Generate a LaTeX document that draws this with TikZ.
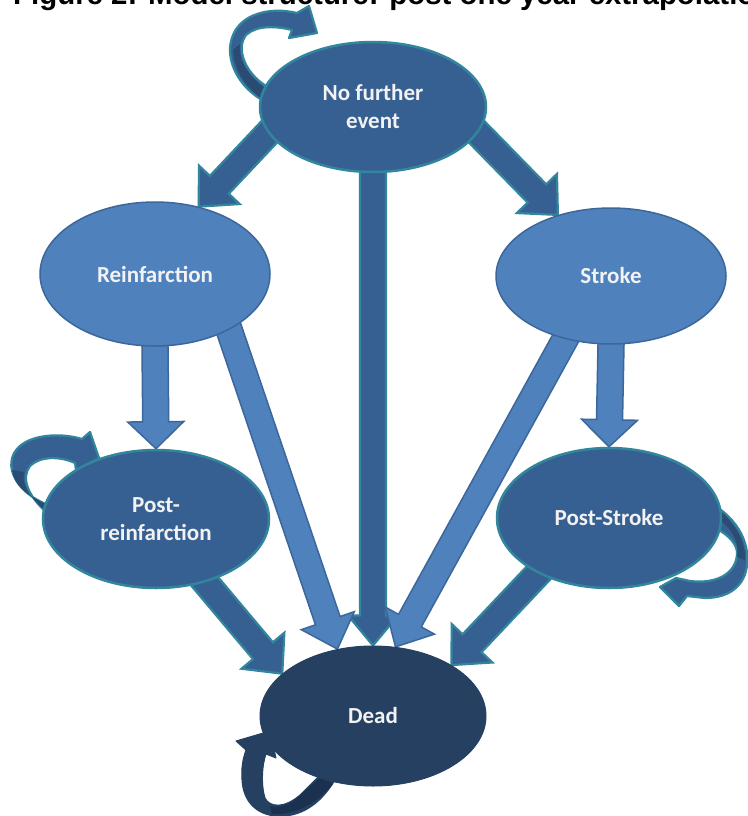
\documentclass[tikz,border=0pt]{standalone}
\usepackage{fontspec}
\setmainfont{Carlito}
\newfontfamily\titlefont{Liberation Sans}
\usetikzlibrary{calc,shapes.geometric}
\definecolor{dkblue}{HTML}{376092}
\definecolor{tealb}{HTML}{31859C}
\definecolor{ltblue}{HTML}{4F81BD}
\definecolor{ltborder}{HTML}{3C679A}
\definecolor{deadblue}{HTML}{254061}
\definecolor{shadeA}{HTML}{2A4B72}
\definecolor{shadeD}{HTML}{1B3150}
\definecolor{txt}{HTML}{F2F2F2}
\pgfdeclarelayer{bg}
\pgfsetlayers{bg,main}
\def\baSW{13pt}\def\baHW{28pt}\def\baHL{30pt}
\newcommand\blockarrow[3]{%
  \coordinate (ba-s) at ($(#2)!-12pt!(#3)$);
  \coordinate (ba-n) at ($(#3)!\baHL!(#2)$);
  \path[#1] ($(ba-s)!\baSW!90:(#3)$) -- ($(ba-n)!\baSW!90:(#3)$) -- ($(ba-n)!\baHW!90:(#3)$) -- (#3)
     -- ($(ba-n)!\baHW!-90:(#3)$) -- ($(ba-n)!\baSW!-90:(#3)$) -- ($(ba-s)!\baSW!-90:(#3)$) -- cycle;
}
\begin{document}
\begin{tikzpicture}[x=1pt,y=-1pt,
  state/.style={ellipse, inner sep=0pt, align=center, text=txt,
     font=\bfseries\fontsize{23}{28}\selectfont},
  stA/.style={state, fill=dkblue, draw=tealb, line width=2.5pt},
  stB/.style={state, fill=ltblue, draw=ltborder, line width=1.5pt},
  stD/.style={state, fill=deadblue, draw=deadblue, line width=1pt},
  arrA/.style={fill=dkblue, draw=tealb, line width=2.2pt},
  arrB/.style={fill=ltblue, draw=ltborder, line width=1.5pt},
  loopA/.style={fill=dkblue, draw=tealb, line width=2.2pt, line join=round},
  loopD/.style={fill=deadblue, draw=deadblue, line width=1pt, line join=round}]
\useasboundingbox (0,0) rectangle (747,816);
\node[anchor=base west, inner sep=0pt, font=\titlefont\bfseries\fontsize{29.4}{30}\selectfont] (title) at (13,5)
  {Figure 2: Model structure: post one year extrapolation};

\node[stA, minimum width=226pt, minimum height=130pt] (nfe) at (373,107) {No further\\event};
\node[stB, minimum width=230pt, minimum height=144pt] (reinf) at (155,274) {Reinfarction};
\node[stB, minimum width=230pt, minimum height=136pt] (stroke) at (611,276) {Stroke};
\node[stA, minimum width=226pt, minimum height=138pt] (postr) at (156,519) {Post-\\reinfarction};
\node[stA, minimum width=224pt, minimum height=140pt] (posts) at (609,518) {Post-Stroke};
\node[stD, minimum width=226pt, minimum height=140pt] (dead) at (373,716) {Dead};

\begin{pgfonlayer}{bg}
  % self loops
  \path[loopA] (262,100) .. controls (225,78) and (218,32) .. (252,16)
     .. controls (268,9) and (284,10) .. (297,13) -- (309,6) -- (317,33) -- (289,38) -- (292,30)
     .. controls (276,26) and (257,25) .. (246,35) .. controls (236,48) and (244,72) .. (266,86) -- cycle;
  \fill[shadeA] (240,44) .. controls (238,60) and (248,76) .. (265,88) -- (262,99)
     .. controls (246,88) and (234,70) .. (233,50) -- cycle;
  \path[loopA] (48,505) .. controls (6,488) and (0,452) .. (30,440)
     .. controls (45,434) and (65,434) .. (82,439) -- (90,432) -- (99,458) -- (76,470) -- (75,463)
     .. controls (60,456) and (40,456) .. (30,466) .. controls (21,478) and (27,495) .. (48,514) -- cycle;
  \fill[shadeA] (24,472) .. controls (21,485) and (30,498) .. (48,513) -- (48,505)
     .. controls (26,495) and (14,485) .. (12,470) -- cycle;
  \path[loopA] (705,500) .. controls (735,515) and (750,540) .. (747,565)
     .. controls (745,585) and (730,598) .. (705,598) -- (687,596) -- (679,606) -- (660,587)
     -- (676,578) -- (690,581) .. controls (715,584) and (735,575) .. (737,555)
     .. controls (738,545) and (730,535) .. (710,525) -- cycle;
  \fill[shadeA] (722,522) .. controls (735,532) and (739,545) .. (737,557) -- (745,560)
     .. controls (746,545) and (738,528) .. (722,512) -- cycle;
  \path[loopD] (335,780) .. controls (320,805) and (300,818) .. (275,816)
     .. controls (255,814) and (243,800) .. (242,780) .. controls (241,768) and (243,758) .. (246,750)
     -- (236,741) -- (270,731) -- (276,758) -- (266,754)
     .. controls (262,765) and (261,785) .. (265,798) .. controls (270,808) and (285,808) .. (300,795)
     -- (320,775) -- cycle;
  \fill[shadeD] (300,795) .. controls (290,806) and (278,808) .. (270,806) -- (272,814)
     .. controls (295,815) and (315,805) .. (333,784) -- (322,776) -- cycle;
  % transitions
  \def\baHW{25pt}
  \blockarrow{arrA}{nfe.270}{dead.90}
  \def\baHW{28pt}
  \blockarrow{arrA}{nfe.194}{reinf.57}
  \blockarrow{arrA}{nfe.346}{stroke.131}
  \def\baHL{27pt}
  \blockarrow{arrB}{reinf.270}{postr.90}
  \blockarrow{arrB}{stroke.270}{posts.90}
  \def\baHL{30pt}
  \blockarrow{arrB}{reinf.-37}{dead.118}
  \blockarrow{arrB}{stroke.234}{dead.72}
  \blockarrow{arrA}{postr.-52}{dead.155}
  \blockarrow{arrA}{posts.218}{dead.33}
\end{pgfonlayer}
\end{tikzpicture}
\end{document}
